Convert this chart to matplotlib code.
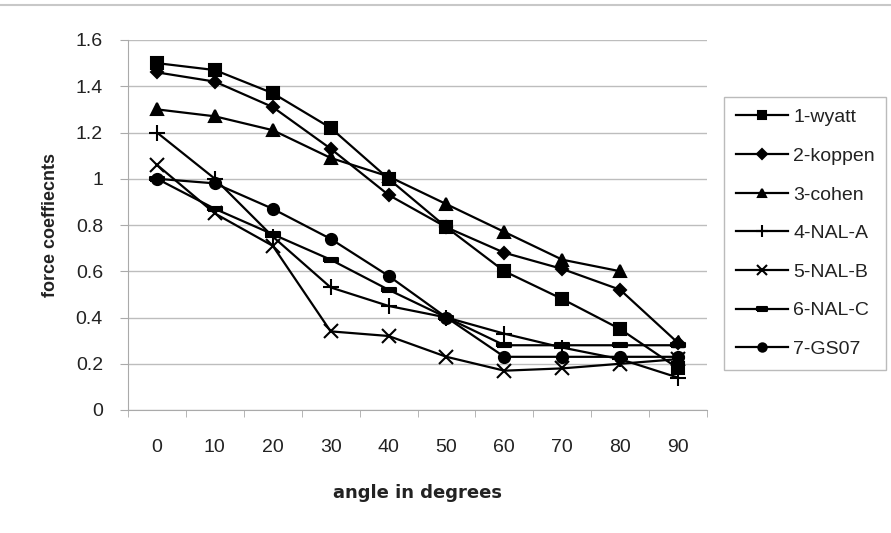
import matplotlib.pyplot as plt
from matplotlib.lines import Line2D

angles = ['0', '10', '20', '30', '40', '50', '60', '70', '80', '90']

wyatt = [1.50, 1.47, 1.37, 1.22, 1.00, 0.79, 0.60, 0.48, 0.35, 0.18]
koppen = [1.46, 1.42, 1.31, 1.13, 0.93, 0.79, 0.68, 0.61, 0.52, 0.29]
cohen = [1.30, 1.27, 1.21, 1.09, 1.01, 0.89, 0.77, 0.65, 0.60, None]
cohen_end = 0.30
nal_a = [1.20, 1.00, 0.75, 0.53, 0.45, 0.40, 0.33, 0.27, 0.22, 0.14]
nal_b = [1.06, 0.85, 0.71, 0.34, 0.32, 0.23, 0.17, 0.18, 0.20, 0.22]
nal_c = [1.00, 0.87, 0.76, 0.65, 0.52, 0.40, 0.28, 0.28, 0.28, 0.28]
gs07 = [1.00, 0.98, 0.87, 0.74, 0.58, 0.40, 0.23, 0.23, 0.23, 0.23]

names = ['1-wyatt', '2-koppen', '3-cohen', '4-NAL-A', '5-NAL-B', '6-NAL-C', '7-GS07']
series = [wyatt, koppen, cohen, nal_a, nal_b, nal_c, gs07]

dash = [(-1, -0.3), (1, -0.3), (1, 0.3), (-1, 0.3), (-1, -0.3)]
markers = ['s', 'D', '^', '+', 'x', dash, 'o']
msizes = [8, 6.5, 8.5, 11, 10, 10, 8]

plt.rcParams['font.family'] = ['Liberation Sans', 'DejaVu Sans']

fig = plt.figure(figsize=(8.91, 5.33), dpi=100)
ax = fig.add_axes([128 / 891, 1 - 410 / 533, 579 / 891, 370 / 533])

xs = list(range(len(angles)))
for name, vals, m, ms in zip(names, series, markers, msizes):
    px = [x for x, v in zip(xs, vals) if v is not None]
    py = [v for v in vals if v is not None]
    ax.plot(px, py, color='black', lw=1.6, marker=m, markersize=ms,
            markeredgewidth=1.5, label=name)

# lone cohen marker at 90 deg
ax.plot([9], [cohen_end], color='black', marker='^', markersize=8.5, lw=0)

ax.set_xlim(-0.5, 9.5)
ax.set_ylim(0, 1.6)
ax.set_xticks(xs)
ax.set_xticklabels(angles, fontsize=14, color='#222222')
ax.set_xticks([x + 0.5 for x in range(-1, 10)], minor=True)
ax.tick_params(axis='x', which='major', length=0, pad=21)
ax.tick_params(axis='x', which='minor', length=5, color='#aaaaaa')
ax.set_yticks([0, 0.2, 0.4, 0.6, 0.8, 1.0, 1.2, 1.4, 1.6])
ax.set_yticklabels(['0', '0.2', '0.4', '0.6', '0.8', '1', '1.2', '1.4', '1.6'],
                   fontsize=14, color='#222222')
ax.tick_params(axis='y', length=6, color='#aaaaaa', pad=12)
ax.grid(axis='y', color='#bdbdbd', lw=1)
ax.set_axisbelow(True)
for s in ['top', 'right']:
    ax.spines[s].set_visible(False)
ax.spines['left'].set_color('#aaaaaa')
ax.spines['bottom'].set_color('#aaaaaa')

ax.set_xlabel('angle in degrees', fontsize=13, fontweight='bold',
              family='DejaVu Sans', labelpad=20, color='#222222')
ax.set_ylabel('force coeffiecnts', fontsize=13, fontweight='bold',
              labelpad=12, color='#222222')

leg = fig.legend(loc='upper left', bbox_to_anchor=(724 / 891, 1 - 97 / 533),
                 fontsize=14, frameon=True, fancybox=False, handlelength=2.7,
                 labelspacing=1.08, borderpad=0.6, handletextpad=0.25,
                 borderaxespad=0, markerscale=0.75)
leg.get_frame().set_edgecolor('#aaaaaa')
leg.get_frame().set_linewidth(1)
for t in leg.get_texts():
    t.set_color('#222222')

# faint border line along the top of the scan
fig.add_artist(Line2D([0, 1], [1 - 5 / 533, 1 - 5 / 533], color='#c8c8c8', lw=1.5))

fig.savefig('out.png', dpi=100)
